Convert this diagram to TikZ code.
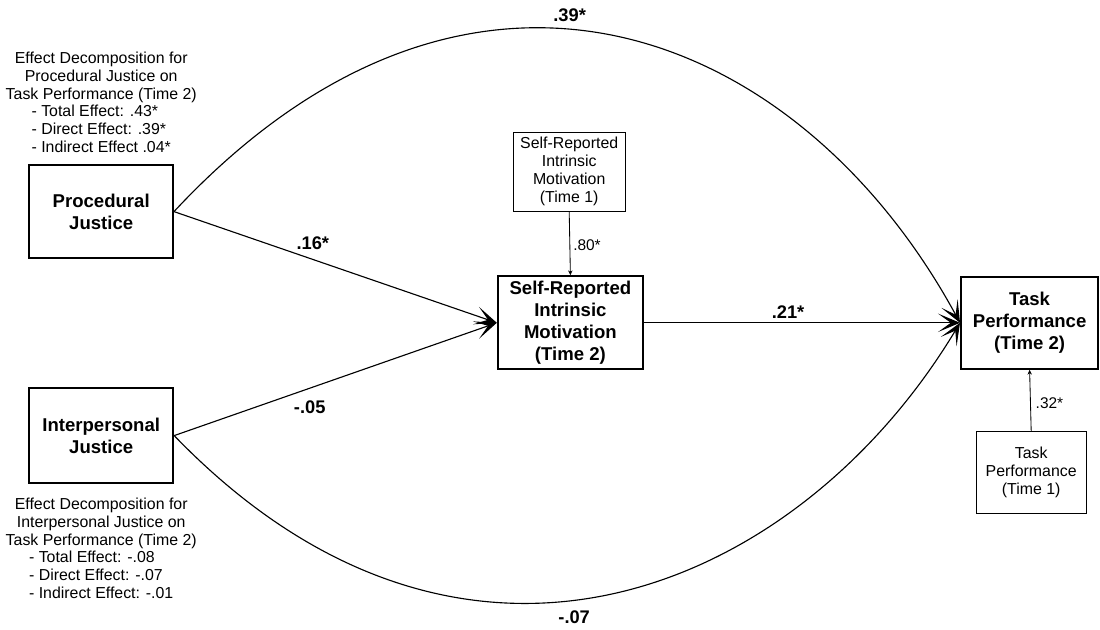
\documentclass[tikz,border=0pt]{standalone}
\usepackage{fontspec}
\setmainfont{Liberation Sans}
\usetikzlibrary{arrows.meta,positioning}

\begin{document}
\begin{tikzpicture}[
  bigbox/.style={draw,line width=1.4pt,rectangle,inner sep=0pt,align=center,font=\fontsize{13.2}{15.5}\selectfont\bfseries},
  smallbox/.style={draw,line width=0.7pt,rectangle,inner sep=0pt,align=center,font=\fontsize{11.3}{12.8}\selectfont},
  note/.style={align=center,inner sep=0pt,font=\fontsize{11.3}{12.8}\selectfont},
  coef/.style={inner sep=0pt,font=\fontsize{13}{15}\selectfont\bfseries},
  smallcoef/.style={inner sep=0pt,font=\fontsize{11}{13}\selectfont},
  bigarrow/.style={line width=0.8pt,-{Stealth[length=5.5mm,width=4.6mm,inset=3.2mm]}},
  smallarrow/.style={line width=0.6pt,-{Stealth[length=1.2mm,width=1.1mm]}}
]
\useasboundingbox (0,0) rectangle (27.5,-15.725);

% boxes
\node[bigbox,minimum width=3.59cm,minimum height=2.33cm] (procjust) at (2.53,-5.29) {Procedural\\Justice};
\node[bigbox,minimum width=3.6cm,minimum height=2.38cm] (interjust) at (2.53,-10.89) {Interpersonal\\Justice};
\node[bigbox,minimum width=3.63cm,minimum height=2.33cm] (motiv2) at (14.26,-8.07) {Self-Reported\\Intrinsic\\Motivation\\(Time 2)};
\node[smallbox,minimum width=2.8cm,minimum height=1.98cm] (motiv1) at (14.23,-4.29) {Self-Reported\\Intrinsic\\Motivation\\(Time 1)};
\node[bigbox,minimum width=3.43cm,minimum height=2.3cm] (perf2) at (25.74,-8.07) {Task\\Performance\\(Time 2)};
\node[smallbox,minimum width=2.75cm,minimum height=2.03cm] (perf1) at (25.78,-11.81) {Task\\Performance\\(Time 1)};

% effect decompositions
\node[note,above=1.5mm of procjust] (procnote) {Effect Decomposition for\\Procedural Justice on\\Task Performance (Time 2)\\
  \begin{tabular}{@{}l@{}}- Total Effect: .43*\\- Direct Effect: .39*\\- Indirect Effect .04*\end{tabular}};
\node[note,below=3.3mm of interjust] (internote) {Effect Decomposition for\\Interpersonal Justice on\\Task Performance (Time 2)\\
  \begin{tabular}{@{}l@{}}- Total Effect: -.08\\- Direct Effect: -.07\\- Indirect Effect: -.01\end{tabular}};

% paths
\draw[bigarrow] (procjust.east) -- node[coef,pos=0.43,above=2.4mm] {.16*} (motiv2.west);
\draw[bigarrow] (interjust.east) -- node[coef,pos=0.42,below=2.9mm] {-.05} (motiv2.west);
\draw[bigarrow] (motiv2.east) -- node[coef,pos=0.456,above=0.9mm] {.21*} (perf2.west);
\draw[bigarrow] (procjust.east) .. controls +(47:11cm) and +(118.5:8.25cm) .. node[coef,pos=0.44,above=1.8mm] {.39*} (perf2.west);
\draw[bigarrow] (interjust.east) .. controls +(-46:10.5cm) and +(-121:7.75cm) .. node[coef,pos=0.45,below=2.6mm] {-.07} (perf2.west);
\draw[smallarrow] (motiv1.south) -- node[smallcoef,pos=0.52,right=0.75mm] {.80*} (motiv2.north);
\draw[smallarrow] (perf1.north) -- node[smallcoef,pos=0.45,right=1.2mm] {.32*} (perf2.south);
\end{tikzpicture}
\end{document}
